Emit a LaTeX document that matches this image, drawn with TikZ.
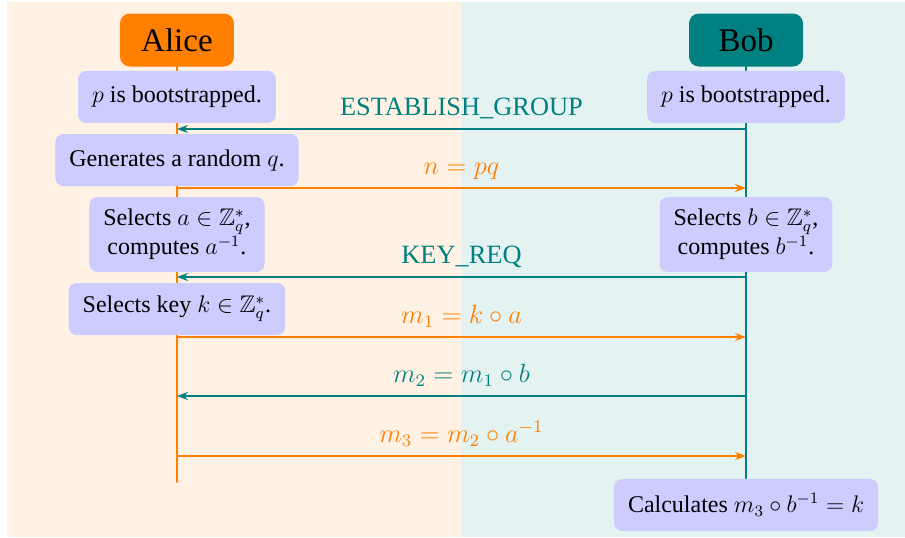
\documentclass[tikz,border=0pt]{standalone}
\usepackage[no-math]{fontspec}
\setmainfont{Liberation Serif}
\usepackage{amssymb}
\usepackage{tkz-euclide}
\usetikzlibrary{arrows.meta,calc}

\tikzset{
  actor/.style={rounded corners=5pt,minimum width=57pt,minimum height=26.5pt,
    font=\fontsize{16.5}{20}\selectfont},
  note/.style={fill=blue!20,rounded corners=4pt,inner xsep=7pt,inner ysep=6pt,
    minimum height=26pt,align=center,font=\fontsize{12}{14.5}\selectfont},
  msg/.style={-{Stealth[length=5.5pt,width=4pt]},line width=1pt},
  msglabel/.style={anchor=base,yshift=6.8pt,scale=1.1,font=\fontsize{12}{14.5}\selectfont}
}

\begin{document}
\begin{tikzpicture}
\useasboundingbox (-3.110,0.703) rectangle (12.794,-8.734);

% Background
\fill[orange!10] (-2.987,0.668) rectangle (5,-8.734);
\fill[teal!10] (5,0.668) rectangle (12.794,-8.734);

\tkzDefPoints{0/0/A0,10/0/B0,0/-7.767/A9,10/-7.767/B9}
\tkzDefPoints{0/-1.564/A1,10/-1.564/B1,0/-2.600/A2,10/-2.600/B2,
  0/-4.165/A3,10/-4.165/B3,0/-5.219/A4,10/-5.219/B4,
  0/-6.256/A5,10/-6.256/B5,0/-7.310/A6,10/-7.310/B6}

% Lifelines
\tkzDrawSegment[color=orange,line width=1pt](A0,A9)
\tkzDrawSegment[color=teal,line width=1pt](B0,B9)

\node[actor,fill=orange] (alice) at (A0) {Alice};
\node[actor,fill=teal] (bob) at (B0) {Bob};

% Step 1
\node[note] (aboot) at (0,-1.000) {$p$ is bootstrapped.};
\node[note] (bboot) at (10,-1.000) {$p$ is bootstrapped.};
\tkzDrawSegments[msg,color=teal](B1,A1)
\tkzLabelSegment[msglabel,teal](B1,A1){ESTABLISH\_GROUP}

% Step 2
\node[note] (agen) at (0,-2.109) {Generates a random $q$.};
\tkzDrawSegments[msg,color=orange](A2,B2)
\tkzLabelSegment[msglabel,orange](A2,B2){$n = pq$}

% Step 3
\node[note] (asel) at (0,-3.418) {Selects $a \in \mathbb{Z}_q^*$,\\ computes $a^{-1}$.};
\node[note] (bsel) at (10,-3.418) {Selects $b \in \mathbb{Z}_q^*$,\\ computes $b^{-1}$.};
\tkzDrawSegments[msg,color=teal](B3,A3)
\tkzLabelSegment[msglabel,teal](B3,A3){KEY\_REQ}

% Step 4
\node[note] (akey) at (0,-4.727) {Selects key $k \in \mathbb{Z}_q^*$.};
\tkzDrawSegments[msg,color=orange](A4,B4 A6,B6)
\tkzDrawSegments[msg,color=teal](B5,A5)
\tkzLabelSegment[msglabel,orange](A4,B4){$m_1 = k \circ a$}
\tkzLabelSegment[msglabel,teal](B5,A5){$m_2 = m_1 \circ b$}
\tkzLabelSegment[msglabel,orange](A6,B6){$m_3 = m_2 \circ a^{-1}$}

\node[note] (bcalc) at (10,-8.171) {Calculates $m_3 \circ b^{-1} = k$};

\end{tikzpicture}
\end{document}
